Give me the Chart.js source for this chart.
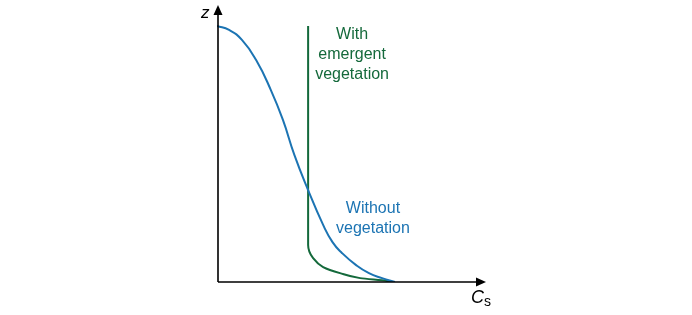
<!DOCTYPE html>
<html>
<head>
<meta charset="utf-8">
<script src="https://cdn.jsdelivr.net/npm/chart.js@4"></script>
<style>
  body { margin: 0; background: #fff; }
</style>
</head>
<body>
<canvas id="ChartCanvas1" width="692" height="315"></canvas>
<script>
// concentration (x) vs height (z), arbitrary units 0..100
const withoutVegX = [0, 4.5, 9.3, 14.6, 20.1, 24.6, 28.9, 34.0, 39.6, 43.1, 46.6, 51.9, 56.7, 61.6, 66.4];
const withoutVegZ = [92.4, 91.0, 87.4, 80.1, 69.3, 58.5, 45.8, 33.2, 20.6, 14.4, 10.5, 6.1, 3.2, 1.4, 0];

const emergentVegX = [34.0, 34.0, 34.0, 35.8, 39.6, 45.9, 53.4, 63.4, 65.3];
const emergentVegZ = [92.4, 50.0, 13.4, 8.7, 5.4, 3.2, 1.4, 0.4, 0];

const greenLabel = ['With', 'emergent', 'vegetation'];
const blueLabel = ['Without', 'vegetation'];

const blue = '#1c74b3';
const green = '#14693b';

Initialize();

function Initialize()
{
    const ctx = document.getElementById('ChartCanvas1').getContext('2d');

    const toPoints = (xs, zs) => xs.map((x, i) => ({x: x, y: zs[i]}));

    // axes with arrowheads plus the in-plot labels
    const decor = {
        id: 'decor',
        afterDatasetsDraw(chart)
        {
            const c = chart.ctx;
            const a = chart.chartArea;
            const xs = chart.scales.x, ys = chart.scales.y;
            const x0 = xs.getPixelForValue(0) + 1, y0 = ys.getPixelForValue(0);

            c.save();
            c.strokeStyle = '#000';
            c.fillStyle = '#000';
            c.lineWidth = 1.6;
            c.beginPath();
            c.moveTo(x0, y0);
            c.lineTo(x0, a.top + 8);
            c.moveTo(x0, y0);
            c.lineTo(a.right - 8, y0);
            c.stroke();

            c.beginPath();
            c.moveTo(x0, a.top);
            c.lineTo(x0 - 4.5, a.top + 10);
            c.lineTo(x0 + 4.5, a.top + 10);
            c.closePath();
            c.fill();

            c.beginPath();
            c.moveTo(a.right + 1, y0);
            c.lineTo(a.right - 9, y0 - 4.5);
            c.lineTo(a.right - 9, y0 + 4.5);
            c.closePath();
            c.fill();

            c.textBaseline = 'alphabetic';
            c.textAlign = 'left';
            c.font = 'italic 17px "Liberation Sans", Arial, sans-serif';
            c.fillText('z', x0 - 17, a.top + 13);
            c.font = 'italic 18px "Liberation Sans", Arial, sans-serif';
            c.fillText('C', a.right - 14, y0 + 21);
            c.font = '14px "Liberation Sans", Arial, sans-serif';
            c.fillText('s', a.right - 1, y0 + 24);

            c.textAlign = 'center';
            c.font = '16px "Liberation Sans", Arial, sans-serif';
            c.fillStyle = green;
            let gx = xs.getPixelForValue(50.4), gy = ys.getPixelForValue(87.7);
            greenLabel.forEach((t, i) => c.fillText(t, gx, gy + i * 20));
            c.fillStyle = blue;
            let bx = xs.getPixelForValue(58.2), by = ys.getPixelForValue(24.9);
            blueLabel.forEach((t, i) => c.fillText(t, bx, by + i * 20));
            c.restore();
        }
    };

    new Chart(ctx,
    {
        type: 'line',
        data: {
            datasets: [
                {
                    label: 'Without vegetation',
                    data: toPoints(withoutVegX, withoutVegZ),
                    borderColor: blue,
                    borderWidth: 2,
                    pointRadius: 0,
                    tension: 0.5
                },
                {
                    label: 'With emergent vegetation',
                    data: toPoints(emergentVegX, emergentVegZ),
                    borderColor: green,
                    borderWidth: 2,
                    pointRadius: 0,
                    cubicInterpolationMode: 'monotone'
                }
            ]
        },
        options: {
            indexAxis: 'y',
            responsive: false,
            animation: false,
            layout: { padding: { left: 217, right: 207, top: 5, bottom: 33 } },
            plugins: { legend: { display: false }, tooltip: { enabled: false } },
            scales: {
                x: { type: 'linear', min: 0, max: 100, display: false },
                y: { type: 'linear', min: 0, max: 100, display: false }
            }
        },
        plugins: [decor]
    });
}
</script>
</body>
</html>
